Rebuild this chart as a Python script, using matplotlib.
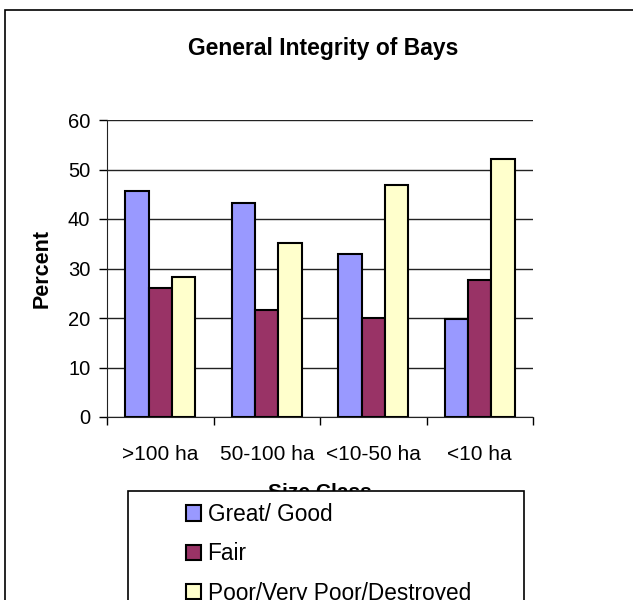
import numpy as np
import matplotlib
matplotlib.use('Agg')
import matplotlib.pyplot as plt
from matplotlib.patches import Rectangle

# data
categories = ['>100 ha', '50-100 ha', '<10-50 ha', '<10 ha']
great_good = [45.6, 43.2, 33.0, 19.8]
fair = [26.0, 21.6, 20.0, 27.7]
poor = [28.2, 35.1, 46.9, 52.2]
series_names = ['Great/ Good', 'Fair', 'Poor/Very Poor/Destroyed']
colors = ['#9999FF', '#993366', '#FFFFCC']

plt.rcParams['font.family'] = ['Liberation Sans', 'DejaVu Sans']

fig = plt.figure(figsize=(6.33, 6.0), dpi=100)
ax = fig.add_axes([107/633, 1 - 417/600, 426/633, 297/600])

x = np.arange(len(categories))
w = 0.22
for i, (vals, name, c) in enumerate(zip([great_good, fair, poor], series_names, colors)):
    ax.bar(x + (i - 1) * w, vals, w, color=c, edgecolor='black', linewidth=1.5,
           label=name, zorder=3)

ax.set_xlim(-0.5, 3.5)
ax.set_ylim(0, 60)
ax.set_yticks(range(0, 61, 10))
ax.yaxis.grid(True, color='#222222', linewidth=1.0, zorder=0)
ax.tick_params(axis='y', direction='out', length=6, width=1, pad=6, labelsize=14.5)

# ticks on group boundaries, labels in the middle
ax.set_xticks(np.arange(-0.5, 4, 1))
ax.set_xticklabels([])
ax.set_xticks(x, minor=True)
ax.set_xticklabels(categories, minor=True)
ax.tick_params(axis='x', which='major', direction='out', length=6, width=1)
ax.tick_params(axis='x', which='minor', length=0, pad=20, labelsize=15)

ax.spines['top'].set_visible(False)
ax.spines['right'].set_visible(False)
ax.spines['left'].set_color('#222222')
ax.spines['bottom'].set_color('#222222')

fig.text(323.5/633, 1 - 48/600, 'General Integrity of Bays', ha='center', va='center',
         fontsize=16.5, fontweight='bold')
fig.text(42/633, 1 - 268/600, 'Percent', ha='center', va='center', rotation=90,
         fontsize=15.5, fontweight='bold')
# axis title, mostly hidden behind the legend box as in the original
fig.text(320/633, 1 - 493/600, 'Size Class', ha='center', va='center',
         fontsize=15, fontweight='bold', zorder=3)

# outer chart border
fig.patches.append(Rectangle((5/633, -0.1), 2, 1 - 10/600 + 0.1, transform=fig.transFigure,
                             fill=False, edgecolor='black', linewidth=1.2, zorder=1))

# legend box
fig.patches.append(Rectangle((128/633, -0.1), 396/633, 0.1 + 1 - 491/600,
                             transform=fig.transFigure, facecolor='white',
                             edgecolor='black', linewidth=1.2, zorder=4))
handles, labels = ax.get_legend_handles_labels()
leg = fig.legend(handles, labels, loc='upper left', bbox_to_anchor=(186/633, 1 - 503/600),
                 frameon=False, fontsize=16.3, borderpad=0, borderaxespad=0,
                 handlelength=0.65, handleheight=0.65, handletextpad=0.3, labelspacing=0.72)
leg.set_zorder(5)

plt.savefig('out.png', dpi=100)
